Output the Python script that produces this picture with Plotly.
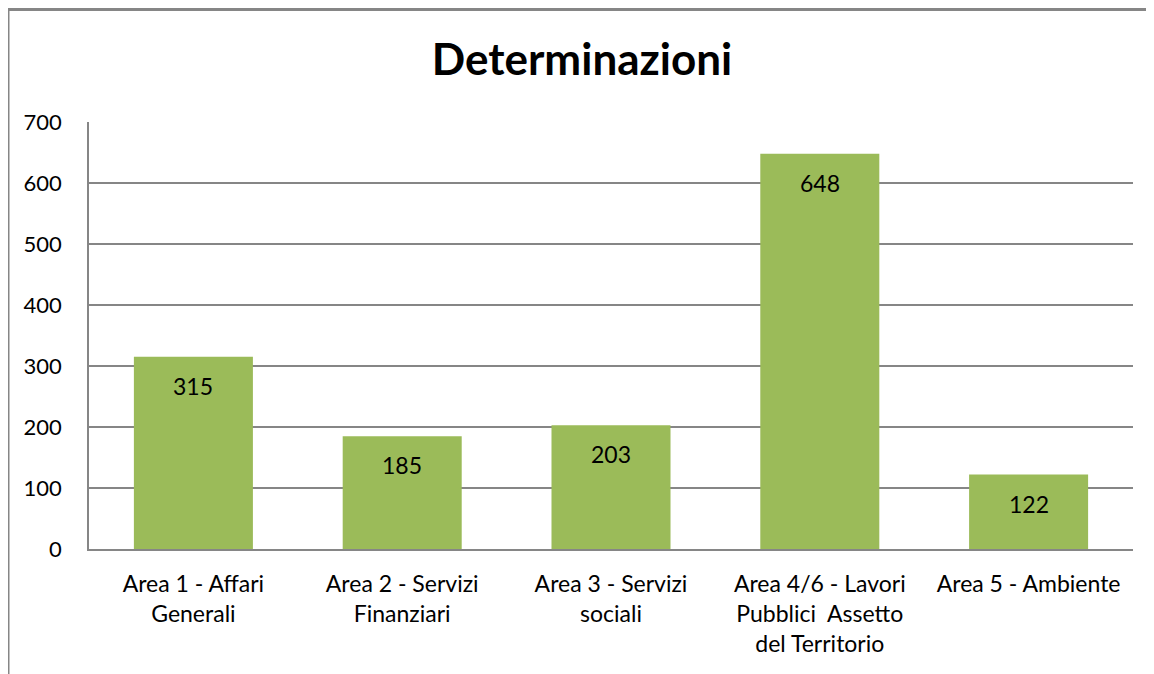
import plotly.graph_objects as go

categories = [
    "Area 1 - Affari<br>Generali",
    "Area 2 - Servizi<br>Finanziari",
    "Area 3 - Servizi<br>sociali",
    "Area 4/6 - Lavori<br>Pubblici  Assetto<br>del Territorio",
    "Area 5 - Ambiente",
]
values = [315, 185, 203, 648, 122]
tick_vals = [0, 100, 200, 300, 400, 500, 600, 700]

# page body has an 8px margin, so the figure starts at (8, 8)
OFF = 8
W, H = 1154 - OFF, 674 - OFF
ML = 89 - OFF
MT = 122 - OFF
MR = W - (1133 - OFF)
MB = H - (549 - OFF)
PW = W - ML - MR
PH = H - MT - MB

FONT = "Lato, 'Open Sans', sans-serif"
GREEN = "#9BBB59"
GRAY = "#868686"

fig = go.Figure()
fig.add_trace(go.Bar(
    x=categories, y=values,
    marker=dict(color=GREEN, line=dict(width=0)),
    width=0.57,
    hoverinfo="x+y",
))

for c, v in zip(categories, values):
    fig.add_annotation(
        x=c, y=v, xref="x", yref="y",
        text=str(v), showarrow=False,
        yanchor="middle", yshift=-29,
        font=dict(family=FONT, size=23, color="#000000"),
    )

# outer chart border (left and top visible)
bx = (8 - OFF - ML) / PW
by = 1 + (MT - (9.5 - OFF)) / PH
fig.add_shape(type="line", xref="paper", yref="paper",
              x0=bx, x1=bx, y0=-(MB + 10) / PH, y1=by,
              line=dict(color=GRAY, width=3))
fig.add_shape(type="line", xref="paper", yref="paper",
              x0=bx, x1=(W - ML + 10) / PW, y0=by, y1=by,
              line=dict(color=GRAY, width=3))

fig.update_layout(
    width=W, height=H,
    margin=dict(l=ML, r=MR, t=MT, b=MB, pad=0),
    paper_bgcolor="white", plot_bgcolor="white",
    showlegend=False,
    title=dict(text="<b>Determinazioni</b>", x=(582 - OFF) / W, xref="container", xanchor="center",
               y=1 - (60 - OFF) / H, yref="container", yanchor="middle",
               font=dict(family=FONT, size=44, color="#000000")),
    xaxis=dict(
        showgrid=False, showline=True, linecolor=GRAY, linewidth=1.5,
        ticks="", ticklabelstandoff=14,
        tickfont=dict(family=FONT, size=23, color="#000000"),
        tickangle=0,
    ),
    yaxis=dict(
        range=[0, 700], tickvals=tick_vals, showgrid=True, gridcolor=GRAY, gridwidth=1.5,
        showline=True, linecolor=GRAY, linewidth=1.5, zeroline=False,
        ticks="", ticklabelstandoff=21,
        tickfont=dict(family=FONT, size=22, color="#000000"),
    ),
)

fig.write_html("out.html")
